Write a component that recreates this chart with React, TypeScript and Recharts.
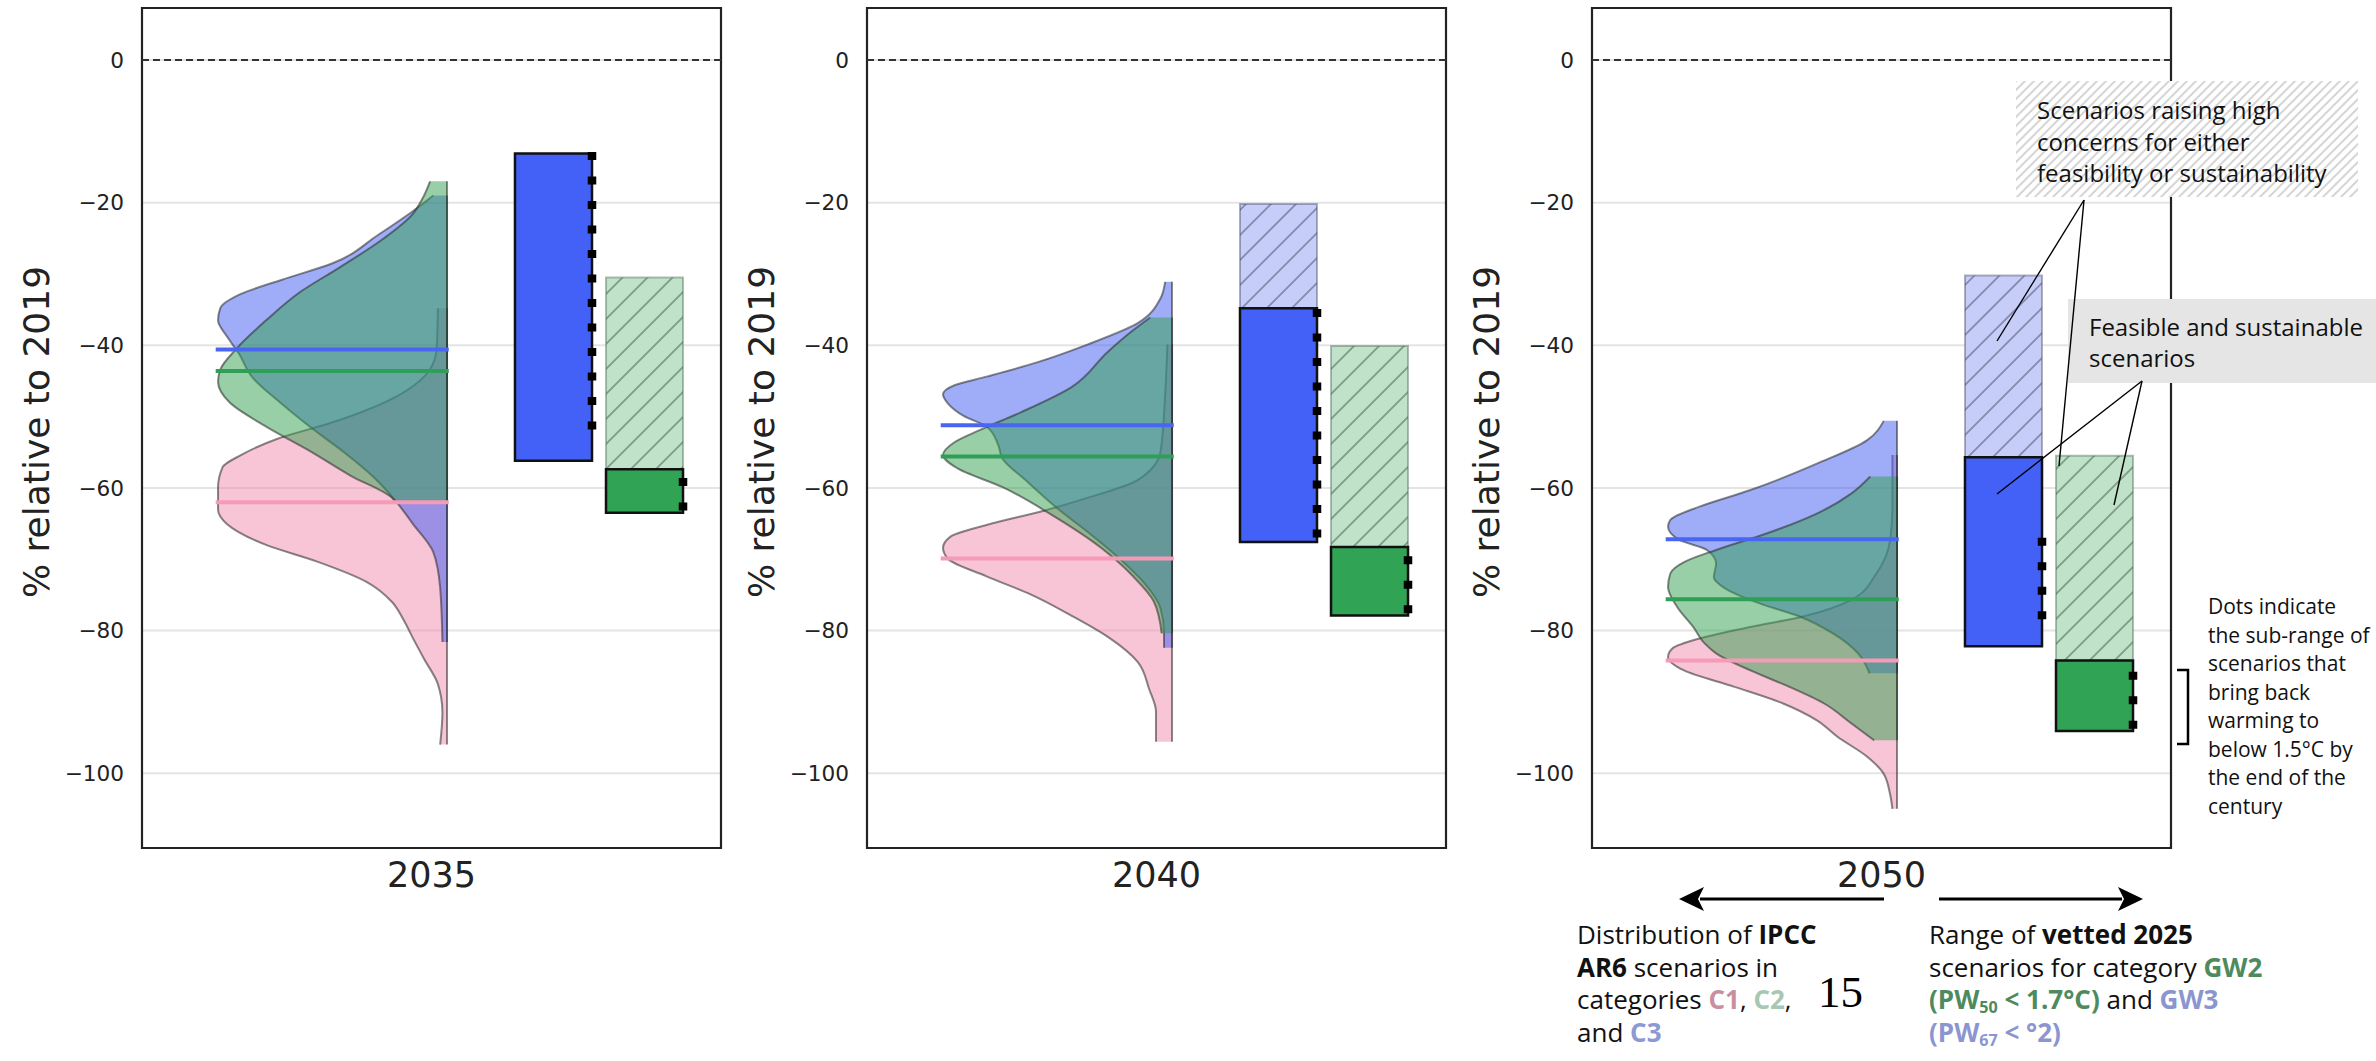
import React from 'react';
import {
  ComposedChart,
  Area,
  XAxis,
  YAxis,
  CartesianGrid,
  ReferenceLine,
  ReferenceArea,
} from 'recharts';

// ---------------- DATA ----------------
const years = ['2035', '2040', '2050'];

// Half-violin outlines of IPCC AR6 categories: [value (% rel. to 2019), width relative to widest point]
const c1Profile2035 = [
  [-34.8, 0.04], [-40.4, 0.045], [-43.4, 0.075], [-46.8, 0.2], [-50.8, 0.5], [-53.1, 0.74],
  [-55.4, 0.9], [-57.1, 0.98], [-60, 1.0], [-63, 1.0], [-65.1, 0.96], [-68, 0.79], [-70.3, 0.57],
  [-73.2, 0.35], [-76, 0.24], [-78.5, 0.19], [-81, 0.15], [-84, 0.1], [-87.5, 0.04], [-91.5, 0.02], [-96, 0.03],
];
const c2Profile2035 = [
  [-17, 0.074], [-19.6, 0.11], [-21.6, 0.15], [-25.1, 0.28], [-29.1, 0.47], [-32.5, 0.64], [-36.5, 0.79],
  [-40.5, 0.92], [-43.4, 0.99], [-45.1, 1.0], [-48, 0.95], [-51.4, 0.79], [-54.8, 0.6], [-58.3, 0.42],
  [-61.4, 0.24], [-62.2, 0.22],
];
const c3Profile2035 = [
  [-19, 0.06], [-20.5, 0.12], [-24.5, 0.3], [-28.5, 0.5], [-30.8, 0.72], [-32.8, 0.9], [-34.8, 0.99],
  [-36.5, 1.0], [-38.8, 0.96], [-41.1, 0.91], [-44.5, 0.85], [-48, 0.73], [-51.4, 0.6], [-55, 0.45],
  [-58.5, 0.32], [-62, 0.22], [-65, 0.15], [-69, 0.06], [-74, 0.03], [-81.6, 0.02],
];

const c1Profile2040 = [
  [-39.9, 0.02], [-46.9, 0.03], [-54.9, 0.05], [-58.9, 0.15], [-61.4, 0.37], [-63.2, 0.56], [-65.2, 0.81],
  [-66.9, 0.97], [-68.4, 1.0], [-69.9, 0.98], [-72.4, 0.81], [-74.9, 0.62], [-77.9, 0.44], [-80.9, 0.28],
  [-84.4, 0.15], [-88.2, 0.1], [-91.4, 0.07], [-94, 0.07], [-95.6, 0.07],
];
const c2Profile2040 = [
  [-36.1, 0.095], [-37.9, 0.17], [-40.9, 0.28], [-45.9, 0.44], [-49.4, 0.66], [-51.9, 0.84], [-53.6, 0.95],
  [-55.4, 1.0], [-57.2, 0.94], [-59.9, 0.74], [-63.9, 0.52], [-68.4, 0.31], [-72.4, 0.17], [-75.9, 0.08],
  [-80.4, 0.045],
];
const c3Profile2040 = [
  [-31.1, 0.03], [-33.4, 0.05], [-36.9, 0.15], [-39.9, 0.37], [-42.4, 0.59], [-44.4, 0.81], [-45.6, 0.95],
  [-46.9, 1.0], [-48.1, 0.98], [-49.9, 0.91], [-51.4, 0.81], [-53.9, 0.76], [-55.9, 0.74], [-58.9, 0.64],
  [-62.9, 0.5], [-66.4, 0.36], [-69.9, 0.23], [-73.4, 0.12], [-76.9, 0.05], [-80.4, 0.035], [-82.4, 0.035],
];

const c1Profile2050 = [
  [-55.4, 0.02], [-62.6, 0.02], [-67.3, 0.03], [-72, 0.09], [-75.7, 0.2], [-78.1, 0.42], [-79.5, 0.64],
  [-81.1, 0.86], [-82.5, 0.98], [-83.7, 1.0], [-85.6, 0.93], [-87.9, 0.71], [-90.2, 0.5], [-92.6, 0.35],
  [-94.9, 0.26], [-97.7, 0.13], [-100, 0.06], [-103, 0.03], [-105, 0.02],
];
const c2Profile2050 = [
  [-58.4, 0.117], [-60.8, 0.2], [-63.6, 0.35], [-66.4, 0.57], [-68.7, 0.79], [-70.4, 0.93], [-72, 0.99],
  [-73.9, 1.0], [-76.7, 0.96], [-79.5, 0.89], [-81.8, 0.84], [-83.2, 0.79], [-85.6, 0.64], [-87.9, 0.47],
  [-90.2, 0.32], [-93, 0.2], [-95.4, 0.1],
];
const c3Profile2050 = [
  [-50.6, 0.058], [-53.3, 0.13], [-56.6, 0.35], [-60.3, 0.64], [-62.6, 0.86], [-64.5, 0.99], [-65.4, 1.0],
  [-67.3, 0.95], [-68.7, 0.83], [-70.6, 0.79], [-72.5, 0.8], [-74.3, 0.74], [-76.2, 0.6], [-78.1, 0.42],
  [-80.4, 0.28], [-83.2, 0.17], [-86, 0.12],
];

const c1Profiles = [c1Profile2035, c1Profile2040, c1Profile2050];
const c2Profiles = [c2Profile2035, c2Profile2040, c2Profile2050];
const c3Profiles = [c3Profile2035, c3Profile2040, c3Profile2050];

// Medians
const c1Median = [-62.0, -69.9, -84.2];
const c2Median = [-43.6, -55.6, -75.6];
const c3Median = [-40.6, -51.2, -67.2];

// Vetted 2025 ranges, GW3 (blue) and GW2 (green)
const gw3HatchTop = [null, -20.2, -30.2];
const gw3SolidTop = [-13.1, -34.8, -55.7];
const gw3Bottom = [-56.2, -67.6, -82.2];
const gw3DotRange = [[-12.9, -51.9], [-34.9, -67.1], [-67.0, -78.5]];

const gw2HatchTop = [-30.5, -40.1, -55.5];
const gw2SolidTop = [-57.4, -68.3, -84.2];
const gw2Bottom = [-63.5, -77.9, -94.1];
const gw2DotRange = [[-58.6, -63.4], [-69.6, -77.8], [-85.8, -93.9]];

const yTicks = [0, -20, -40, -60, -80, -100];

// ---------------- LAYOUT / STYLE ----------------
const Y_MIN = -110.5;
const Y_MAX = 7.3;
const X_R = 52.68; // right edge of half violins (x units, 0..100)
const X_W = 39.55; // max violin width
const GW3_X = [64.42, 77.72];
const GW2_X = [80.14, 93.44];

const FONT_AX = '"DejaVu Sans", sans-serif';
const FONT_ANN = '"Open Sans", sans-serif';

const PINK = '#f08cab';
const BLUE = '#405cf2';
const GREEN = '#31a04f';

const EMPTY = [null, null];

function buildRows(idx: number) {
  const rows: any[] = [];
  const push = (profile: number[][], key: string) => {
    profile.forEach(([v, w]) => {
      const r: any = { y: v, c1: EMPTY, c2: EMPTY, c3: EMPTY };
      r[key] = [X_R - w * X_W, X_R];
      rows.push(r);
    });
  };
  push(c1Profiles[idx], 'c1');
  push(c3Profiles[idx], 'c3');
  push(c2Profiles[idx], 'c2');
  rows.sort((a, b) => b.y - a.y);
  return rows;
}

const fmt = (v: number) => (v < 0 ? `\u2212${Math.abs(v)}` : `${v}`);

function Panel({ idx, left }: { idx: number; left: number }) {
  const rows = buildRows(idx);
  const outline = 'rgba(40,40,40,0.55)';
  return (
    <div style={{ position: 'absolute', left, top: 0 }}>
      <ComposedChart
        width={723}
        height={908}
        layout="vertical"
        data={rows}
        margin={{ top: 8, right: 2, bottom: 0, left: 0 }}
      >
        <defs>
          <pattern id={`hb${idx}`} patternUnits="userSpaceOnUse" width={25} height={25}>
            <rect width={25} height={25} fill="#c6cdf9" />
            <path d="M-5,5 L5,-5 M0,25 L25,0 M20,30 L30,20" stroke="#868bab" strokeWidth={1.8} />
          </pattern>
          <pattern id={`hg${idx}`} patternUnits="userSpaceOnUse" width={25} height={25}>
            <rect width={25} height={25} fill="#bfe2c8" />
            <path d="M-5,5 L5,-5 M0,25 L25,0 M20,30 L30,20" stroke="#7e9c86" strokeWidth={1.8} />
          </pattern>
        </defs>
        <CartesianGrid horizontal vertical={false} stroke="#e4e4e4" strokeWidth={2} />
        <XAxis
          type="number"
          domain={[0, 100]}
          allowDataOverflow
          axisLine={false}
          tickLine={false}
          tick={false}
          height={60}
          label={{
            content: (p: any) => {
              const vb = p.viewBox || { x: 0, y: 0, width: 0, height: 0 };
              return (
                <text
                  x={vb.x + vb.width / 2}
                  y={vb.y + 39}
                  textAnchor="middle"
                  fontFamily={FONT_AX}
                  fontSize={35}
                  fill="#222"
                >
                  {years[idx]}
                </text>
              );
            },
          }}
        />
        <YAxis
          type="number"
          dataKey="y"
          domain={[Y_MIN, Y_MAX]}
          reversed
          allowDataOverflow
          ticks={yTicks}
          interval={0}
          tickFormatter={fmt}
          axisLine={false}
          tickLine={false}
          tickSize={0}
          tickMargin={18}
          width={142}
          tick={{ fontFamily: FONT_AX, fontSize: 21.6, fill: '#222' }}
          label={{
            content: (p: any) => {
              const vb = p.viewBox || { x: 0, y: 0, width: 0, height: 0 };
              const x = vb.x + 48.5;
              const y = vb.y + vb.height / 2 + 4;
              return (
                <text
                  x={x}
                  y={y}
                  transform={`rotate(-90, ${x}, ${y})`}
                  textAnchor="middle"
                  fontFamily={FONT_AX}
                  fontSize={36}
                  fill="#222"
                >
                  % relative to 2019
                </text>
              );
            },
          }}
        />
        <ReferenceLine y={0} stroke="#333" strokeWidth={2} strokeDasharray="7 4" />

        <Area dataKey="c1" type="monotone" connectNulls fill={PINK} fillOpacity={0.5} stroke={outline} strokeWidth={2} dot={false} activeDot={false} isAnimationActive={false} />
        <Area dataKey="c3" type="monotone" connectNulls fill={BLUE} fillOpacity={0.5} stroke={outline} strokeWidth={2} dot={false} activeDot={false} isAnimationActive={false} />
        <Area dataKey="c2" type="monotone" connectNulls fill={GREEN} fillOpacity={0.5} stroke={outline} strokeWidth={2} dot={false} activeDot={false} isAnimationActive={false} />

        <ReferenceLine segment={[{ x: X_R - X_W - 0.4, y: c3Median[idx] }, { x: X_R + 0.3, y: c3Median[idx] }]} stroke="#4866f2" strokeWidth={4} />
        <ReferenceLine segment={[{ x: X_R - X_W - 0.4, y: c2Median[idx] }, { x: X_R + 0.3, y: c2Median[idx] }]} stroke="#2f9f57" strokeWidth={4} />
        <ReferenceLine segment={[{ x: X_R - X_W - 0.4, y: c1Median[idx] }, { x: X_R + 0.3, y: c1Median[idx] }]} stroke="#f59ab7" strokeWidth={4} />

        {gw3HatchTop[idx] != null && (
          <ReferenceArea x1={GW3_X[0]} x2={GW3_X[1]} y1={gw3HatchTop[idx] as number} y2={gw3SolidTop[idx]} fill={`url(#hb${idx})`} fillOpacity={1} stroke="rgba(80,80,110,0.45)" strokeWidth={2} />
        )}
        <ReferenceArea x1={GW3_X[0]} x2={GW3_X[1]} y1={gw3SolidTop[idx]} y2={gw3Bottom[idx]} fill="#4361f7" fillOpacity={1} stroke="#111" strokeWidth={2.5} />
        <ReferenceArea x1={GW2_X[0]} x2={GW2_X[1]} y1={gw2HatchTop[idx]} y2={gw2SolidTop[idx]} fill={`url(#hg${idx})`} fillOpacity={1} stroke="rgba(80,110,90,0.45)" strokeWidth={2} />
        <ReferenceArea x1={GW2_X[0]} x2={GW2_X[1]} y1={gw2SolidTop[idx]} y2={gw2Bottom[idx]} fill="#31a354" fillOpacity={1} stroke="#111" strokeWidth={2.5} />

        <ReferenceLine segment={[{ x: GW3_X[1], y: gw3DotRange[idx][0] }, { x: GW3_X[1], y: gw3DotRange[idx][1] }]} stroke="#000" strokeWidth={8.5} strokeDasharray="8 16.5" />
        <ReferenceLine segment={[{ x: GW2_X[1], y: gw2DotRange[idx][0] }, { x: GW2_X[1], y: gw2DotRange[idx][1] }]} stroke="#000" strokeWidth={8.5} strokeDasharray="8 16.5" />

        <ReferenceArea x1={0} x2={100} y1={Y_MIN} y2={Y_MAX} fill="none" fillOpacity={0} stroke="#222" strokeWidth={2.2} />
      </ComposedChart>
    </div>
  );
}

const C1T = '#c98ea0';
const C2T = '#a7c6b3';
const C3T = '#8d99d2';
const GW2T = '#4e8a5e';
const GW3T = '#8b95cf';

export default function App() {
  const subStyle: React.CSSProperties = { fontSize: '0.62em', verticalAlign: '-0.25em', lineHeight: 0 };
  return (
    <div style={{ position: 'absolute', left: 0, top: 0, width: 2376, height: 1061, background: '#fff', overflow: 'hidden' }}>
      <Panel idx={0} left={0} />
      <Panel idx={1} left={725} />
      <Panel idx={2} left={1450} />

      <svg style={{ position: 'absolute', left: 0, top: 0 }} width={2376} height={1061}>
        <defs>
          <pattern id="boxHatch" patternUnits="userSpaceOnUse" width={9} height={9}>
            <rect width={9} height={9} fill="#fff" />
            <path d="M-2,2 L2,-2 M0,9 L9,0 M7,11 L11,7" stroke="#d6d6d6" strokeWidth={2} />
          </pattern>
        </defs>
        <rect x={2016} y={81} width={342} height={116} fill="url(#boxHatch)" />
        <rect x={2068} y={299} width={308} height={84} fill="#e5e5e5" />
        <g stroke="#000" strokeWidth={1.4}>
          <line x1={2084} y1={200} x2={1997} y2={341} />
          <line x1={2084} y1={200} x2={2059} y2={466} />
          <line x1={2142} y1={381} x2={1997} y2={494} />
          <line x1={2142} y1={381} x2={2114} y2={505} />
        </g>
        <path d="M2177,670 H2188 V744 H2177" fill="none" stroke="#000" strokeWidth={2.5} />
        <line x1={1884} y1={899} x2={1700} y2={899} stroke="#000" strokeWidth={3} />
        <path d="M1679,899 L1704,887 L1698,899 L1704,911 Z" fill="#000" />
        <line x1={1939} y1={899} x2={2122} y2={899} stroke="#000" strokeWidth={3} />
        <path d="M2143,899 L2118,887 L2124,899 L2118,911 Z" fill="#000" />
      </svg>

      <div style={{ position: 'absolute', left: 2037, top: 94, fontFamily: FONT_ANN, fontSize: 24, lineHeight: '31.5px', color: '#111', whiteSpace: 'nowrap' }}>
        Scenarios raising high<br />concerns for either<br />feasibility or sustainability
      </div>
      <div style={{ position: 'absolute', left: 2089, top: 311, fontFamily: FONT_ANN, fontSize: 24, lineHeight: '31px', color: '#111', whiteSpace: 'nowrap' }}>
        Feasible and sustainable<br />scenarios
      </div>
      <div style={{ position: 'absolute', left: 2208, top: 592, fontFamily: FONT_ANN, fontSize: 21, lineHeight: '28.5px', color: '#111', whiteSpace: 'nowrap' }}>
        Dots indicate<br />the sub-range of<br />scenarios that<br />bring back<br />warming to<br />below 1.5°C by<br />the end of the<br />century
      </div>
      <div style={{ position: 'absolute', left: 1577, top: 918, fontFamily: FONT_ANN, fontSize: 26, lineHeight: '32.5px', color: '#111', whiteSpace: 'nowrap' }}>
        Distribution of <b>IPCC</b><br />
        <b>AR6</b> scenarios in<br />
        categories <b style={{ color: C1T }}>C1</b>, <b style={{ color: C2T }}>C2</b>,<br />
        and <b style={{ color: C3T }}>C3</b>
      </div>
      <div style={{ position: 'absolute', left: 1818, top: 970, fontFamily: '"Liberation Serif", serif', fontSize: 45, lineHeight: '45px', color: '#000' }}>
        15
      </div>
      <div style={{ position: 'absolute', left: 1929, top: 918, fontFamily: FONT_ANN, fontSize: 26, lineHeight: '32.5px', color: '#111', whiteSpace: 'nowrap' }}>
        Range of <b>vetted 2025</b><br />
        scenarios for category <b style={{ color: GW2T }}>GW2</b><br />
        <b style={{ color: GW2T }}>(PW<span style={subStyle}>50</span> &lt; 1.7°C)</b> and <b style={{ color: GW3T }}>GW3</b><br />
        <b style={{ color: GW3T }}>(PW<span style={subStyle}>67</span> &lt; °2)</b>
      </div>
    </div>
  );
}
